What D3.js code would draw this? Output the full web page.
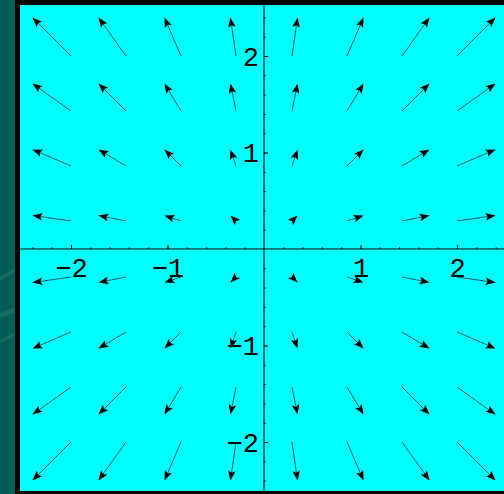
<!DOCTYPE html>
<html>
<head>
<meta charset="utf-8">
<script src="https://cdn.jsdelivr.net/npm/d3@7"></script>
<style>
  html, body { margin: 0; padding: 0; background: #000; }
  svg { display: block; }
</style>
</head>
<body>
<svg id="chart" width="504" height="494"></svg>
<script>
// Sample grid of the field (columns and rows of arrow tails)
const gridX = [-2, -1.43, -0.86, -0.29, 0.29, 0.86, 1.43, 2];
const gridY = [-2, -1.43, -0.86, -0.29, 0.29, 0.86, 1.43, 2];
// Horizontal component of the field in each column, vertical component in each row
const compU = [-2, -1.43, -0.86, -0.29, 0.29, 0.86, 1.43, 2];
const compV = [-2, -1.43, -0.86, -0.29, 0.29, 0.86, 1.43, 2];
// Axis tick labels
const majorTicks = [-2, -1, 1, 2];
const minorTicks = d3.range(-12, 13).map(k => k / 5).filter(t => Math.abs(t) > 1e-9);

const W = 504, H = 494;
const arrowScale = 0.2;      // field units -> plot units
const headLen = 10, headHalf = 3.8;

const svg = d3.select("#chart");

// Slide backdrop strip on the left
svg.append("rect").attr("x", 0).attr("y", 0).attr("width", 15).attr("height", H).attr("fill", "#015d57");
const strip = svg.append("g");
[[-30, 300, 60, 250], [-30, 330, 60, 300], [-30, 360, 60, 318]].forEach(([x0, y0, x1, y1], i) => {
  strip.append("path")
    .attr("d", `M${x0},${y0} Q${(x0 + x1) / 2},${(y0 + y1) / 2 - 10} ${x1},${y1}`)
    .attr("fill", "none").attr("stroke", "#3a8a82").attr("stroke-opacity", 0.35)
    .attr("stroke-width", i === 1 ? 5 : 3);
});
svg.append("rect").attr("x", 15).attr("y", 0).attr("width", W - 15).attr("height", H).attr("fill", "#000");

// Plot panel
const px0 = 20, py0 = 5, px1 = 504, py1 = 491;
svg.append("rect").attr("x", px0).attr("y", py0).attr("width", px1 - px0).attr("height", py1 - py0).attr("fill", "#00ffff");

const x = d3.scaleLinear().domain([-2.5, 2.5]).range([264 - 241.25, 264 + 241.25]);
const y = d3.scaleLinear().domain([-2.5, 2.5]).range([249 + 241.25, 249 - 241.25]);

const plot = svg.append("g");
plot.append("clipPath").attr("id", "panel").append("rect")
  .attr("x", px0).attr("y", py0).attr("width", px1 - px0).attr("height", py1 - py0);
const inner = plot.append("g").attr("clip-path", "url(#panel)");

// Axis lines
inner.append("line").attr("x1", px0).attr("x2", px1).attr("y1", y(0)).attr("y2", y(0))
  .attr("stroke", "#000").attr("stroke-width", 1);
inner.append("line").attr("x1", x(0)).attr("x2", x(0)).attr("y1", py0).attr("y2", py1)
  .attr("stroke", "#000").attr("stroke-width", 1);

const font = "'Liberation Mono', 'Courier New', monospace";
const fmt = d => (d < 0 ? "\u2212" : "") + Math.abs(d);

// Minor ticks
inner.append("g").attr("transform", `translate(0,${y(0)})`)
  .call(d3.axisBottom(x).tickValues(minorTicks).tickSizeInner(-2).tickSizeOuter(0).tickFormat(""))
  .call(g => g.select(".domain").remove())
  .call(g => g.selectAll("line").attr("stroke", "#000").attr("stroke-width", 0.8));
inner.append("g").attr("transform", `translate(${x(0)},0)`)
  .call(d3.axisLeft(y).tickValues(minorTicks).tickSizeInner(-2).tickSizeOuter(0).tickFormat(""))
  .call(g => g.select(".domain").remove())
  .call(g => g.selectAll("line").attr("stroke", "#000").attr("stroke-width", 0.8));

// Major ticks with labels
inner.append("g").attr("transform", `translate(0,${y(0)})`)
  .call(d3.axisBottom(x).tickValues(majorTicks).tickSizeInner(-4).tickSizeOuter(0).tickFormat(fmt))
  .call(g => g.select(".domain").remove())
  .call(g => g.selectAll("line").attr("stroke", "#000").attr("stroke-width", 1))
  .call(g => g.selectAll("text").attr("y", 27.5).attr("dy", null)
    .attr("fill", "#000").style("font-family", font).style("font-size", "27px"));
inner.append("g").attr("transform", `translate(${x(0)},0)`)
  .call(d3.axisLeft(y).tickValues(majorTicks).tickSizeInner(-4).tickSizeOuter(0).tickFormat(fmt))
  .call(g => g.select(".domain").remove())
  .call(g => g.selectAll("line").attr("stroke", "#000").attr("stroke-width", 1))
  .call(g => g.selectAll("text").attr("x", -5).attr("dy", "0.35em").attr("text-anchor", "end")
    .attr("fill", "#000").style("font-family", font).style("font-size", "27px"));

// Field arrows
const arrows = [];
gridX.forEach((gx, i) => gridY.forEach((gy, j) => {
  arrows.push({ gx, gy, u: compU[i], v: compV[j] });
}));

const ag = inner.append("g");
arrows.forEach(a => {
  const x0 = x(a.gx), y0 = y(a.gy);
  const x1 = x(a.gx + arrowScale * a.u), y1 = y(a.gy + arrowScale * a.v);
  const dx = x1 - x0, dy = y1 - y0, len = Math.hypot(dx, dy);
  const ux = dx / len, uy = dy / len;
  const bx = x1 - ux * headLen, by = y1 - uy * headLen;
  ag.append("line").attr("x1", x0).attr("y1", y0).attr("x2", bx + ux * 2).attr("y2", by + uy * 2)
    .attr("stroke", "#0a2a2a").attr("stroke-width", 0.75);
  ag.append("path")
    .attr("d", `M${x1},${y1} L${bx - uy * headHalf},${by + ux * headHalf} L${bx + ux * 2},${by + uy * 2} L${bx + uy * headHalf},${by - ux * headHalf}Z`)
    .attr("fill", "#000");
});
</script>
</body>
</html>
